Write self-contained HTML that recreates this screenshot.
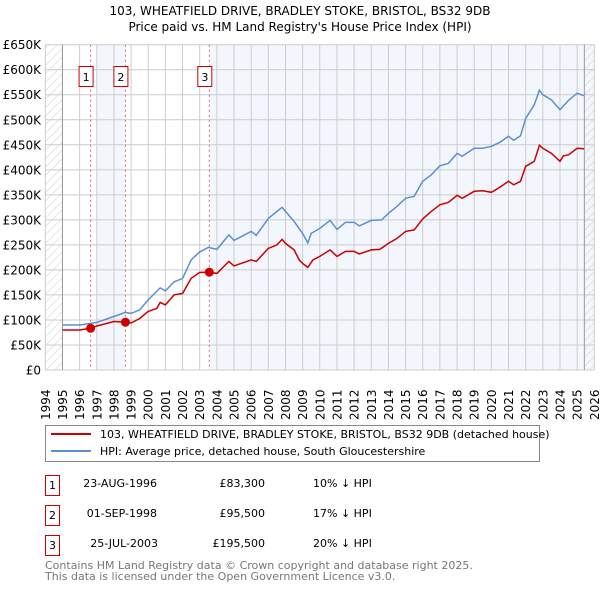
<!DOCTYPE html>
<html><head><meta charset="utf-8"><style>
body{margin:0;background:#fff;}
svg{display:block;font-family:"DejaVu Sans","Liberation Sans",sans-serif;}
</style></head><body>
<svg id="c" width="600" height="590" viewBox="0 0 600 590">
<defs><pattern id="hatch" width="6" height="6" patternUnits="userSpaceOnUse" patternTransform="rotate(45)"><line x1="0" y1="0" x2="0" y2="6" stroke="#ccc" stroke-width="1"/></pattern></defs>
<text x="300" y="15" text-anchor="middle" font-size="12">103, WHEATFIELD DRIVE, BRADLEY STOKE, BRISTOL, BS32 9DB</text>
<text x="300" y="31" text-anchor="middle" font-size="12">Price paid vs. HM Land Registry's House Price Index (HPI)</text>
<g id="plot"></g>
<g>
<rect x="45.5" y="425.5" width="494" height="36" fill="#fff" stroke="#888"/>
<line x1="51" y1="434" x2="91" y2="434" stroke="#cc0000" stroke-width="2"/>
<text x="100" y="438" font-size="11">103, WHEATFIELD DRIVE, BRADLEY STOKE, BRISTOL, BS32 9DB (detached house)</text>
<line x1="51" y1="451" x2="91" y2="451" stroke="#5b8fd4" stroke-width="2"/>
<text x="100" y="455" font-size="11">HPI: Average price, detached house, South Gloucestershire</text>
</g>
<g font-size="11">
<rect x="45.5" y="475.5" width="14" height="20" fill="#fff" stroke="#cc0000"/><text x="52.5" y="489" text-anchor="middle">1</text>
<text x="157" y="487" text-anchor="end">23-AUG-1996</text><text x="265" y="487" text-anchor="end">£83,300</text><text x="313" y="487">10% ↓ HPI</text>
<rect x="45.5" y="505.5" width="14" height="20" fill="#fff" stroke="#cc0000"/><text x="52.5" y="519" text-anchor="middle">2</text>
<text x="157" y="517" text-anchor="end">01-SEP-1998</text><text x="265" y="517" text-anchor="end">£95,500</text><text x="313" y="517">17% ↓ HPI</text>
<rect x="45.5" y="535.5" width="14" height="20" fill="#fff" stroke="#cc0000"/><text x="52.5" y="549" text-anchor="middle">3</text>
<text x="158" y="547" text-anchor="end">25-JUL-2003</text><text x="265" y="547" text-anchor="end">£195,500</text><text x="313" y="547">20% ↓ HPI</text>
</g>
<text x="45" y="569" font-size="11" fill="#777">Contains HM Land Registry data © Crown copyright and database right 2025.</text>
<text x="45" y="580" font-size="11" fill="#777">This data is licensed under the Open Government Licence v3.0.</text>
</svg>
<script>
const hpiYears=[1995,1996,1997,1998,1998.67,1999,1999.5,2000,2000.7,2001,2001.5,2002,2002.5,2003,2003.5,2004,2004.7,2005,2006,2006.3,2007,2007.8,2008,2008.5,2009,2009.3,2009.5,2010,2010.6,2011,2011.5,2012,2012.3,2013,2013.6,2014,2014.5,2015,2015.5,2016,2016.5,2017,2017.5,2018,2018.3,2019,2019.5,2020,2020.5,2021,2021.3,2021.7,2022,2022.5,2022.8,2023,2023.5,2024,2024.5,2025,2025.4];
const hpiValues=[90,90,95,107,115,113,120,140,164,158,176,183,220,236,245,241,270,259,277,269,303,325,317,297,273,254,273,283,299,281,295,295,288,299,300,313,327,343,347,377,390,408,413,433,427,443,443,447,455,467,459,468,503,530,559,550,540,520,539,553,548];
const priceYears=[1995,1996,1996.64,1997,1998,1998.67,1999,1999.5,2000,2000.5,2000.7,2001,2001.5,2002,2002.5,2003,2003.56,2004,2004.7,2005,2006,2006.3,2007,2007.5,2007.8,2008,2008.5,2008.8,2009,2009.3,2009.6,2010,2010.6,2011,2011.5,2012,2012.3,2013,2013.5,2014,2014.5,2015,2015.5,2016,2016.5,2017,2017.5,2018,2018.3,2019,2019.5,2020,2020.5,2021,2021.3,2021.7,2022,2022.5,2022.8,2023,2023.5,2024,2024.2,2024.5,2025,2025.4];
const priceValues=[80,80,83.3,88,97,95.5,94,103,117,123,135,130,150,153,183,195,195.5,193,217,208,220,217,243,250,261,253,240,220,213,205,220,227,240,227,237,237,232,240,241,253,263,277,280,302,317,330,335,349,343,357,358,355,365,377,370,377,407,417,449,443,433,417,428,430,443,442];
const saleYears=[1996.64,1998.67,2003.56];
const saleValues=[83.3,95.5,195.5];
const saleLabels=["1","2","3"];
const yTicks=[0,50,100,150,200,250,300,350,400,450,500,550,600,650];
const yTickLabels=["£0","£50K","£100K","£150K","£200K","£250K","£300K","£350K","£400K","£450K","£500K","£550K","£600K","£650K"];
const xTicks=[1994,1995,1996,1997,1998,1999,2000,2001,2002,2003,2004,2005,2006,2007,2008,2009,2010,2011,2012,2013,2014,2015,2016,2017,2018,2019,2020,2021,2022,2023,2024,2025,2026];

const X0=45.3,X1=594.3,Y0=370,Y1=44.7;
const xs=y=>X0+(y-1994)/(2026-1994)*(X1-X0);
const ys=v=>Y0-v/650*(Y0-Y1);
const NS="http://www.w3.org/2000/svg";
const g=document.getElementById('plot');
function mk(t,a){const e=document.createElementNS(NS,t);for(const k in a)e.setAttribute(k,a[k]);g.appendChild(e);return e;}
let e;
e=mk('rect',{x:X0,y:Y1,width:X1-X0,height:Y0-Y1,fill:'#fff'});


e=mk('rect',{x:xs(1997),y:Y1,width:xs(saleYears[1])-xs(1997),height:Y0-Y1,fill:'#eef3fc',opacity:0.7});


e=mk('rect',{x:xs(saleYears[2]),y:Y1,width:X1-xs(saleYears[2]),height:Y0-Y1,fill:'#eef3fc',opacity:0.7});


e=mk('rect',{x:X0,y:Y1,width:xs(1995)-X0,height:Y0-Y1,fill:'url(#hatch)'});


e=mk('rect',{x:xs(2025.42),y:Y1,width:X1-xs(2025.42),height:Y0-Y1,fill:'url(#hatch)'});


yTicks.forEach((v,i)=>{
  e=mk('line',{x1:X0,x2:X1,y1:ys(v),y2:ys(v),stroke:'#ccc','stroke-width':1});
  
  
  e=mk('text',{x:41,y:ys(v)+4.5,'text-anchor':'end','font-size':12});
  e.textContent=yTickLabels[i];
  
  
});
xTicks.forEach(y=>{
  e=mk('line',{x1:xs(y),x2:xs(y),y1:Y1,y2:Y0,stroke:'#ccc','stroke-width':1});
  
  
  const tx=xs(y)+4.5, ty=Y0+50;
  e=mk('text',{x:tx,y:ty,'font-size':12,transform:'rotate(-90,'+tx.toFixed(1)+','+ty+')'});
  e.textContent=y;
  
  
});
e=mk('line',{x1:xs(1995),x2:xs(1995),y1:Y1,y2:Y0,stroke:'#999'});


e=mk('line',{x1:xs(2025.42),x2:xs(2025.42),y1:Y1,y2:Y0,stroke:'#999'});


saleYears.forEach((y,i)=>{
  e=mk('line',{x1:xs(y),x2:xs(y),y1:Y1,y2:Y0,stroke:'#e06666','stroke-dasharray':'2,3'});
  
  
  e=mk('rect',{x:xs(y)-11.5,y:66.5,width:14,height:20,fill:'#fff',stroke:'#cc0000'});
  
  
  e=mk('text',{x:xs(y)-4.5,y:81,'text-anchor':'middle','font-size':11});
  e.textContent=saleLabels[i];
  
  
});
const path=(xa,va)=>xa.map((y,i)=>(i?'L':'M')+xs(y).toFixed(1)+','+ys(va[i]).toFixed(1)).join('');
e=mk('path',{d:path(hpiYears,hpiValues),fill:'none',stroke:'#5b8fd4','stroke-width':1.5});


e=mk('path',{d:path(priceYears,priceValues),fill:'none',stroke:'#cc0000','stroke-width':1.5});


saleYears.forEach((y,i)=>{
  e=mk('circle',{cx:xs(y),cy:ys(saleValues[i]),r:4.5,fill:'#cc0000'});
  
  
});
</script>
</body></html>
